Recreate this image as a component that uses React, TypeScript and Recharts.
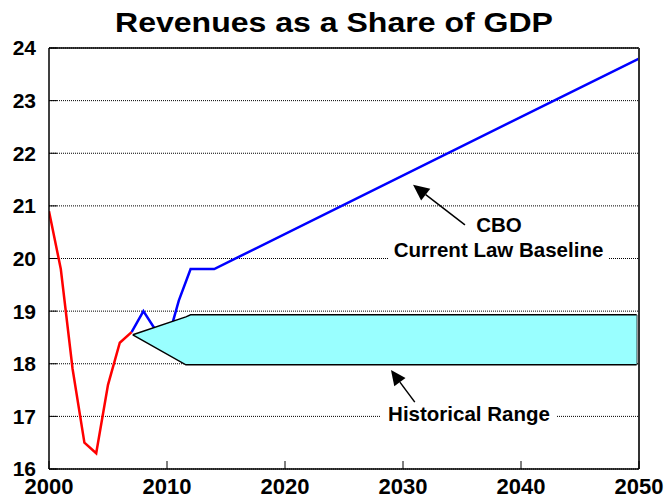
import {
  ComposedChart,
  Line,
  Area,
  XAxis,
  YAxis,
  CartesianGrid,
  ReferenceLine,
} from "recharts";

// actual revenues (% of GDP)
const actualYears = [2000, 2001, 2002, 2003, 2004, 2005, 2006, 2007];
const actualValues = [20.9, 19.8, 17.9, 16.5, 16.3, 17.6, 18.4, 18.6];

// CBO current law baseline
const baselineYears = [2007, 2008, 2009, 2010, 2011, 2012, 2013, 2014, 2050];
const baselineValues = [18.6, 19.0, 18.65, 18.4, 19.2, 19.8, 19.8, 19.8, 23.8];

// historical range band (arrow shaped)
const rangeYears = [2007.1, 2011.6, 2012, 2049.8];
const rangeLow = [18.55, 17.98, 17.98, 17.98];
const rangeHigh = [18.55, 18.89, 18.93, 18.93];

const xTicks = [2000, 2010, 2020, 2030, 2040, 2050];
const yTicks = [16, 17, 18, 19, 20, 21, 22, 23, 24];

const FONT = '"Liberation Sans", Arial, Helvetica, sans-serif';

const actualData = actualYears.map((year, i) => ({ year, v: actualValues[i] }));
const baselineData = baselineYears.map((year, i) => ({ year, v: baselineValues[i] }));
const rangeData = rangeYears.map((year, i) => ({ year, range: [rangeLow[i], rangeHigh[i]] }));

const arrow = (len: number, half: number) => (p: any) => {
  const { x1, y1, x2, y2 } = p;
  const dx = x2 - x1;
  const dy = y2 - y1;
  const d = Math.hypot(dx, dy) || 1;
  const ux = dx / d;
  const uy = dy / d;
  const bx = x2 - ux * len;
  const by = y2 - uy * len;
  const pts = `${x2},${y2} ${bx - uy * half},${by + ux * half} ${bx + uy * half},${by - ux * half}`;
  return (
    <g>
      <line x1={x1} y1={y1} x2={bx} y2={by} stroke="#000" strokeWidth={1.5} />
      <polygon points={pts} fill="#000" />
    </g>
  );
};

export default function App() {
  const tickStyle = { fontSize: 21, fontWeight: "bold", fill: "#000", fontFamily: FONT };
  return (
    <div
      style={{
        position: "fixed",
        left: 0,
        top: 0,
        width: 664,
        height: 502,
        fontFamily: FONT,
        background: "#fff",
      }}
    >
      <ComposedChart
        width={664}
        height={502}
        margin={{ top: 48, right: 25, bottom: 0, left: 0 }}
        style={{ overflow: "visible" }}
      >
        <CartesianGrid
          vertical={false}
          stroke="#000"
          strokeDasharray="1 1"
        />
        <XAxis
          dataKey="year"
          type="number"
          domain={[2000, 2050]}
          ticks={xTicks}
          interval={0}
          height={33}
          tickSize={-8}
          tickMargin={17}
          axisLine={{ stroke: "#000", strokeWidth: 1.5 }}
          tickLine={{ stroke: "#000" }}
          tick={{ ...tickStyle, fontSize: 22 }}
          allowDataOverflow
        />
        <YAxis
          type="number"
          domain={[16, 24]}
          ticks={yTicks}
          interval={0}
          width={49}
          tickSize={-8}
          tickMargin={21}
          axisLine={{ stroke: "#000", strokeWidth: 1.5 }}
          tickLine={{ stroke: "#000" }}
          tick={tickStyle}
          allowDataOverflow
        />
        <Line
          data={baselineData}
          dataKey="v"
          type="linear"
          stroke="#0000ff"
          strokeWidth={2.5}
          dot={false}
          isAnimationActive={false}
        />
        <Line
          data={actualData}
          dataKey="v"
          type="linear"
          stroke="#ff0000"
          strokeWidth={2.5}
          dot={false}
          isAnimationActive={false}
        />
        <Area
          data={rangeData}
          dataKey="range"
          type="linear"
          fill="#99ffff"
          fillOpacity={1}
          stroke="#000"
          strokeWidth={1.5}
          isAnimationActive={false}
          zIndex={500}
        />
        <ReferenceLine
          segment={[
            { x: 2049.8, y: 17.98 },
            { x: 2049.8, y: 18.93 },
          ]}
          stroke="#000"
          strokeWidth={1.5}
        />
        <ReferenceLine y={24} stroke="#000" strokeWidth={1.5} />
        <ReferenceLine x={2050} stroke="#333" strokeWidth={2} />
        <ReferenceLine
          segment={[
            { x: 2035.25, y: 20.64 },
            { x: 2030.85, y: 21.4 },
          ]}
          shape={arrow(16, 7.5)}
        />
        <ReferenceLine
          segment={[
            { x: 2031.0, y: 17.27 },
            { x: 2028.98, y: 17.88 },
          ]}
          shape={arrow(15, 7)}
        />
      </ComposedChart>
      <svg
        width={664}
        height={502}
        style={{ position: "absolute", left: 0, top: 0, pointerEvents: "none" }}
      >
        <text
          x={334}
          y={32}
          textAnchor="middle"
          fontSize={28.5}
          fontWeight="bold"
          textLength={438}
          lengthAdjust="spacingAndGlyphs"
          fill="#000"
        >
          Revenues as a Share of GDP
        </text>
        <rect x={388} y={243} width={221} height={20} fill="#fff" />
        <rect x={381} y={405} width={176} height={20} fill="#fff" />
        <g fontSize={20.5} fontWeight="bold" fill="#000" textAnchor="middle">
          <text x={499} y={232}>CBO</text>
          <text x={498.5} y={257}>Current Law Baseline</text>
          <text x={469} y={421}>Historical Range</text>
        </g>
      </svg>
    </div>
  );
}
